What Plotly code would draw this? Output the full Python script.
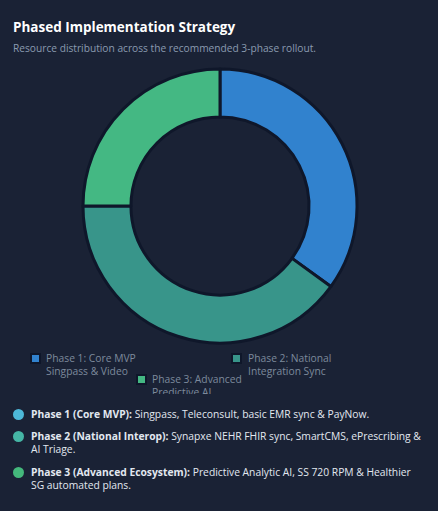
import plotly.graph_objects as go

W = 438
H = 511

phase_labels = ['Phase 1: Core MVP<br>Singpass & Video', 'Phase 2: National<br>Integration Sync', 'Phase 3: Advanced<br>Predictive AI']
phase_values = [35, 40, 25]
phase_colors = ['#3182ce', '#38958a', '#44b883']

note_heads = ['Phase 1 (Core MVP):', 'Phase 2 (National Interop):', 'Phase 3 (Advanced Ecosystem):']
note_bodies = [
    'Singpass, Teleconsult, basic EMR sync & PayNow.',
    'Synapxe NEHR FHIR sync, SmartCMS, ePrescribing &<br>AI Triage.',
    'Predictive Analytic AI, SS 720 RPM & Healthier<br>SG automated plans.',
]
note_colors = ['#4db8d8', '#45b5a5', '#44b87c']

BG = '#1a2235'
EDGE = '#0f172a'
FONT = 'Open Sans'


def px(x):
    return x / W


def py(y):
    return 1 - y / H


def add_text(fig, x, y, text, size, color, **kw):
    fig.add_annotation(
        x=px(x), y=py(y), xref='paper', yref='paper',
        text=text, showarrow=False, xanchor='left', yanchor='top', align='left',
        font=dict(family=FONT, size=size, color=color),
        borderpad=0, **kw,
    )


fig = go.Figure()

fig.add_trace(go.Pie(
    labels=phase_labels,
    values=phase_values,
    hole=0.65,
    sort=False,
    direction='clockwise',
    rotation=0,
    textinfo='none',
    marker=dict(colors=phase_colors, line=dict(color=EDGE, width=3)),
    domain=dict(x=[px(220 - 137), px(220 + 137)], y=[py(206 + 137), py(206 - 137)]),
    showlegend=False,
))

add_text(fig, 12, 17, '<b>Phased Implementation Strategy</b>', 13.5, '#ffffff')
add_text(fig, 12, 40, 'Resource distribution across the recommended 3-phase rollout.', 10.2, '#8a9bb0')

# hand placed legend, the lower entry runs into the notes block and gets cut off
legend_pos = [(45, 350), (247, 350), (151, 371)]
legend_boxes = [(31, 354), (232, 354), (137, 375)]
legend_heights = [28, 28, 22]
for i in range(3):
    bx, by = legend_boxes[i]
    fig.add_shape(type='rect', xref='paper', yref='paper',
                  x0=px(bx), x1=px(bx + 9), y0=py(by), y1=py(by + 9),
                  fillcolor=phase_colors[i], line=dict(color=EDGE, width=2))
    lx, ly = legend_pos[i]
    add_text(fig, lx, ly, phase_labels[i], 10.3, '#7d8a9c',
             height=legend_heights[i], width=110, valign='top')

note_y = [406, 428, 464]
for i in range(3):
    fig.add_shape(type='circle', xref='paper', yref='paper',
                  x0=px(13), x1=px(24), y0=py(note_y[i] + 3), y1=py(note_y[i] + 14),
                  fillcolor=note_colors[i], line=dict(width=0))
    add_text(fig, 30, note_y[i], '<b>' + note_heads[i] + '</b> ' + note_bodies[i], 10.3, '#e2e8f0')

fig.update_layout(
    width=W, height=H,
    margin=dict(l=0, r=0, t=0, b=0),
    paper_bgcolor=BG,
    plot_bgcolor=BG,
    font=dict(family=FONT),
)

fig.write_html("out.html", config=dict(displayModeBar=False),
               post_script="document.body.style.margin='0';")
